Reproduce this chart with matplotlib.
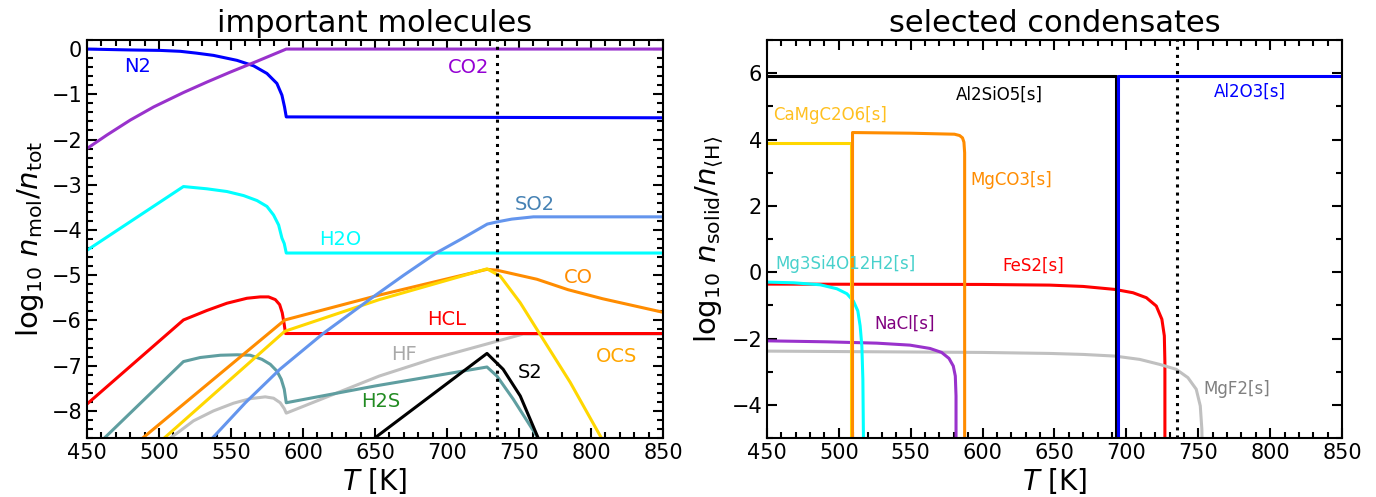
import matplotlib
matplotlib.use("Agg")
import matplotlib.pyplot as plt
from matplotlib.ticker import MultipleLocator

# ---- left panel: important molecules (T [K], log10 n_mol/n_tot) ----
T_N2 = [450, 480, 501, 514.8, 526, 537.9, 554.2, 565.7, 575, 581.9, 585.4, 587.2, 588.4, 850]
N2 = [0, -0.02, -0.03, -0.05, -0.09, -0.14, -0.25, -0.37, -0.54, -0.76, -1.02, -1.28, -1.5, -1.52]

T_CO2 = [450, 463.9, 480.1, 496.3, 517.1, 533.3, 549.5, 568.1, 588.4, 850]
CO2 = [-2.2, -1.9, -1.57, -1.28, -0.96, -0.73, -0.51, -0.27, 0, 0]

T_H2O = [450, 517, 533.3, 547.2, 558.8, 568.1, 575, 579.6, 583.1, 585.4, 587, 588.4, 850]
H2O = [-4.45, -3.04, -3.09, -3.15, -3.24, -3.35, -3.48, -3.67, -3.89, -4.18, -4.3, -4.51, -4.51]

T_HCL = [450, 517, 533.3, 547.2, 561.1, 570.3, 576.1, 580.8, 583.8, 585.6, 587, 587.9, 850]
HCL = [-7.85, -5.99, -5.78, -5.62, -5.51, -5.48, -5.48, -5.54, -5.65, -5.83, -6.09, -6.29, -6.29]

T_HF = [508, 514.8, 524, 537.9, 551.8, 563.4, 573.8, 579.6, 584.2, 587, 588.4, 653, 690, 734.7, 753, 850]
HF = [-8.6, -8.44, -8.22, -8.0, -7.83, -7.73, -7.69, -7.72, -7.82, -7.95, -8.05, -7.23, -6.85, -6.46, -6.3, -6.3]

T_H2S = [461.5, 517, 528.7, 542.6, 554.2, 563.4, 571.5, 577.3, 581.9, 584.9, 587, 588.4,
         650, 727.8, 734.7, 746, 763.6]
H2S = [-8.62, -6.91, -6.82, -6.77, -6.76, -6.77, -6.86, -6.97, -7.12, -7.3, -7.52, -7.82,
       -7.45, -7.03, -7.23, -7.74, -8.62]

T_CO = [488, 587.4, 653, 727.8, 734.7, 762.5, 784, 808, 850]
CO = [-8.62, -5.99, -5.44, -4.87, -4.89, -5.09, -5.32, -5.52, -5.82]

T_OCS = [503, 587.4, 653, 727.8, 737, 750.9, 762.5, 785.6, 807.6]
OCS = [-8.62, -6.24, -5.54, -4.86, -5.02, -5.61, -6.2, -7.37, -8.62]

T_S2 = [649, 727.8, 739, 750.9, 763.6]
S2 = [-8.62, -6.73, -7.08, -7.67, -8.62]

T_SO2 = [536.6, 560, 584, 614, 647, 670, 693, 710, 728, 735, 745, 760, 850]
SO2 = [-8.62, -7.82, -7.08, -6.29, -5.52, -5.0, -4.5, -4.2, -3.87, -3.82, -3.76, -3.71, -3.71]

# ---- right panel: selected condensates (log10 n_solid/n_<H>) ----
T_FeS2 = [450, 600, 646.7, 669.9, 692, 704.6, 713.9, 720.8, 724.7, 726.4, 726.8, 726.8]
FeS2 = [-0.36, -0.37, -0.39, -0.43, -0.52, -0.62, -0.77, -1.02, -1.42, -1.92, -2.72, -5]

T_MgF2 = [450, 600, 646.7, 669.9, 692, 709.3, 723.1, 734.7, 742.8, 748.6, 751.4, 752.5, 752.6]
MgF2 = [-2.38, -2.42, -2.45, -2.48, -2.53, -2.63, -2.78, -2.93, -3.18, -3.53, -4.03, -4.73, -5]

T_NaCl = [450, 491.7, 526.4, 549.5, 563.4, 571.5, 576.6, 579.6, 581, 581.5, 581.5]
NaCl = [-2.07, -2.1, -2.14, -2.2, -2.3, -2.42, -2.6, -2.83, -3.13, -3.73, -5]

T_talc = [450, 468.5, 487, 498.6, 505.6, 510.1, 513.2, 514.8, 516, 516.7, 517.1]
talc = [-0.30, -0.32, -0.38, -0.5, -0.65, -0.87, -1.17, -1.62, -2.23, -3.23, -5]

T_CaMg = [450, 508.5, 508.5]
CaMg = [3.9, 3.9, -5]

T_MgCO3 = [509.5, 509.5, 550, 580.4, 584, 586, 587, 587.5, 587.5]
MgCO3 = [-5, 4.21, 4.19, 4.16, 4.12, 4.05, 3.92, 3.6, -5]

T_Al2SiO5 = [450, 692.5, 692.5]
Al2SiO5 = [5.9, 5.9, -5]

T_Al2O3 = [694, 694, 850]
Al2O3 = [-5, 5.9, 5.9]

T_mark = 735

lw = 2.2
fig = plt.figure(figsize=(13.76, 4.97), dpi=100)
ax1 = fig.add_axes([0.0632, 0.1187, 0.4186, 0.8008])
ax2 = fig.add_axes([0.5574, 0.1187, 0.4179, 0.8008])

kw = dict(lw=lw, solid_joinstyle="round")

# left
ax1.plot(T_N2, N2, color="blue", **kw)
ax1.plot(T_CO2, CO2, color="darkorchid", **kw)
ax1.plot(T_H2O, H2O, color="cyan", **kw)
ax1.plot(T_HF, HF, color="silver", **kw)
ax1.plot(T_HCL, HCL, color="red", **kw)
ax1.plot(T_H2S, H2S, color="cadetblue", **kw)
ax1.plot(T_CO, CO, color="darkorange", **kw)
ax1.plot(T_OCS, OCS, color="gold", **kw)
ax1.plot(T_S2, S2, color="black", **kw)
ax1.plot(T_SO2, SO2, color="cornflowerblue", **kw)
ax1.axvline(T_mark, color="black", ls=":", lw=2.2)

fs_lab = 14
ax1.text(485, -0.38, "N2", color="blue", fontsize=fs_lab, ha="center", va="center")
ax1.text(715, -0.4, "CO2", color="darkviolet", fontsize=fs_lab, ha="center", va="center")
ax1.text(761, -3.43, "SO2", color="steelblue", fontsize=fs_lab, ha="center", va="center")
ax1.text(626, -4.22, "H2O", color="cyan", fontsize=fs_lab, ha="center", va="center")
ax1.text(791, -5.05, "CO", color="darkorange", fontsize=fs_lab, ha="center", va="center")
ax1.text(700, -5.98, "HCL", color="red", fontsize=fs_lab, ha="center", va="center")
ax1.text(670, -6.76, "HF", color="darkgray", fontsize=fs_lab, ha="center", va="center")
ax1.text(818, -6.8, "OCS", color="orange", fontsize=fs_lab, ha="center", va="center")
ax1.text(758, -7.16, "S2", color="black", fontsize=fs_lab, ha="center", va="center")
ax1.text(654, -7.8, "H2S", color="forestgreen", fontsize=fs_lab, ha="center", va="center")

ax1.set_xlim(450, 850)
ax1.set_ylim(-8.6, 0.2)
ax1.set_title("important molecules", fontsize=22)
ax1.set_xlabel(r"$T\ \mathrm{[K]}$", fontsize=20, labelpad=2)
ax1.set_ylabel(r"$\log_{10}\,n_\mathrm{mol}/n_\mathrm{tot}$", fontsize=21, labelpad=4)
ax1.yaxis.set_major_locator(MultipleLocator(1))
ax1.yaxis.set_minor_locator(MultipleLocator(0.2))

# right
ax2.plot(T_FeS2, FeS2, color="red", **kw)
ax2.plot(T_MgF2, MgF2, color="silver", **kw)
ax2.plot(T_NaCl, NaCl, color="darkorchid", **kw)
ax2.plot(T_talc, talc, color="cyan", **kw)
ax2.plot(T_CaMg, CaMg, color="gold", **kw)
ax2.plot(T_MgCO3, MgCO3, color="darkorange", **kw)
ax2.plot(T_Al2SiO5, Al2SiO5, color="black", **kw)
ax2.plot(T_Al2O3, Al2O3, color="blue", **kw)
ax2.axvline(T_mark, color="black", ls=":", lw=2.2)

fs_lab2 = 12
ax2.text(612, 5.36, "Al2SiO5[s]", color="black", fontsize=fs_lab2, ha="center", va="center")
ax2.text(785.6, 5.43, "Al2O3[s]", color="blue", fontsize=fs_lab2, ha="center", va="center")
ax2.text(494, 4.73, "CaMgC2O6[s]", color="#ffc020", fontsize=fs_lab2, ha="center", va="center")
ax2.text(620, 2.78, "MgCO3[s]", color="darkorange", fontsize=fs_lab2, ha="center", va="center")
ax2.text(504.5, 0.26, "Mg3Si4O12H2[s]", color="mediumturquoise", fontsize=fs_lab2, ha="center", va="center")
ax2.text(635, 0.2, "FeS2[s]", color="red", fontsize=fs_lab2, ha="center", va="center")
ax2.text(546, -1.55, "NaCl[s]", color="purple", fontsize=fs_lab2, ha="center", va="center")
ax2.text(777, -3.53, "MgF2[s]", color="gray", fontsize=fs_lab2, ha="center", va="center")

ax2.set_xlim(450, 850)
ax2.set_ylim(-5, 7)
ax2.set_title("selected condensates", fontsize=22)
ax2.set_xlabel(r"$T\ \mathrm{[K]}$", fontsize=20, labelpad=2)
ax2.set_ylabel(r"$\log_{10}\,n_\mathrm{solid}/n_{\langle\mathrm{H}\rangle}$", fontsize=21, labelpad=4)
ax2.yaxis.set_major_locator(MultipleLocator(2))
ax2.yaxis.set_minor_locator(MultipleLocator(1))

for ax in (ax1, ax2):
    ax.xaxis.set_major_locator(MultipleLocator(50))
    ax.xaxis.set_minor_locator(MultipleLocator(10))
    ax.tick_params(which="both", direction="in", top=True, right=True, width=1.5, labelsize=15)
    ax.tick_params(which="major", length=7)
    ax.tick_params(which="minor", length=4)
    for s in ax.spines.values():
        s.set_linewidth(1.5)

fig.savefig("out.png", dpi=100)
